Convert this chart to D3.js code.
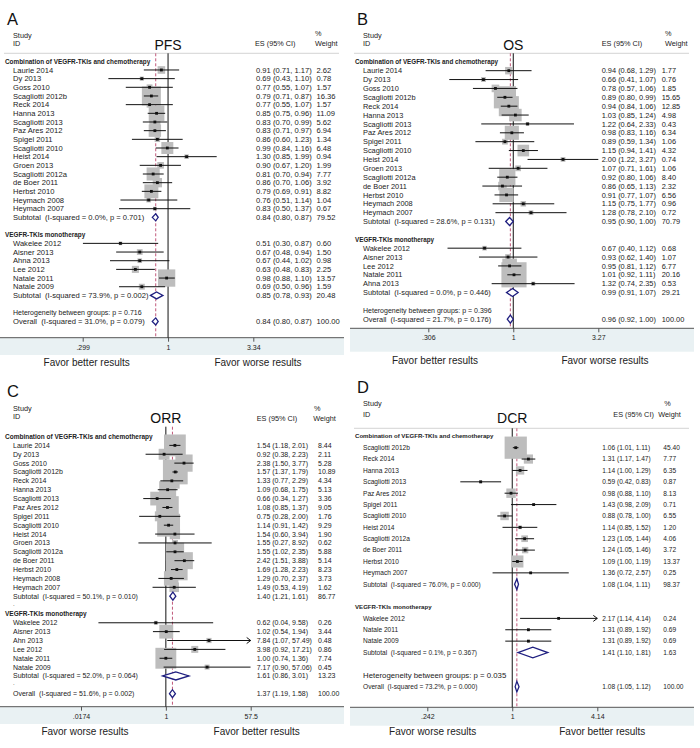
<!DOCTYPE html>
<html>
<head>
<meta charset="utf-8">
<script src="https://cdn.jsdelivr.net/npm/d3@7"></script>
<style>
    body { margin: 0; background: #fff; }
    svg text { font-family: "Liberation Sans", Arial, sans-serif; fill: #222; white-space: pre; }
</style>
</head>
<body>
<svg width="700" height="748"></svg>
<script>
// study rows: [name, ES, lower, upper, weight]
var groupNames = ["Combination of VEGFR-TKIs and chemotherapy", "VEGFR-TKIs monotherapy"];

var pfsCombo = [
    ["Laurie 2014", 0.91, 0.71, 1.17, 2.62],
    ["Dy 2013", 0.69, 0.43, 1.10, 0.78],
    ["Goss 2010", 0.77, 0.55, 1.07, 1.57],
    ["Scagliotti 2012b", 0.79, 0.71, 0.87, 16.36],
    ["Reck 2014", 0.77, 0.55, 1.07, 1.57],
    ["Hanna 2013", 0.85, 0.75, 0.96, 11.09],
    ["Scagliotti 2013", 0.83, 0.70, 0.99, 5.62],
    ["Paz Ares 2012", 0.83, 0.71, 0.97, 6.94],
    ["Spigel 2011", 0.86, 0.60, 1.23, 1.34],
    ["Scagliotti 2010", 0.99, 0.84, 1.16, 6.48],
    ["Heist 2014", 1.30, 0.85, 1.99, 0.94],
    ["Groen 2013", 0.90, 0.67, 1.20, 1.99],
    ["Scagliotti 2012a", 0.81, 0.70, 0.94, 7.77],
    ["de Boer 2011", 0.86, 0.70, 1.06, 3.92],
    ["Herbst 2010", 0.79, 0.69, 0.91, 8.82],
    ["Heymach 2008", 0.76, 0.51, 1.14, 1.04],
    ["Heymach 2007", 0.83, 0.50, 1.37, 0.67]
];
var pfsMono = [
    ["Wakelee 2012", 0.51, 0.30, 0.87, 0.60],
    ["Aisner 2013", 0.67, 0.48, 0.94, 1.50],
    ["Ahna 2013", 0.67, 0.44, 1.02, 0.98],
    ["Lee 2012", 0.63, 0.48, 0.83, 2.25],
    ["Natale 2011", 0.98, 0.88, 1.10, 13.57],
    ["Natale 2009", 0.69, 0.50, 0.96, 1.59]
];
// [ES, lower, upper, weight, I-squared, p]
var pfsSubtotals = [[0.84, 0.80, 0.87, 79.52, "0.0%", "0.701"], [0.85, 0.78, 0.93, 20.48, "73.9%", "0.002"]];
var pfsOverall = [0.84, 0.80, 0.87, 100.00, "31.0%", "0.079"];
var pfsHet = "0.716";
var pfsTicks = [0.299, 1, 3.34];
var pfsTickLabels = [".299", "1", "3.34"];

var osCombo = [
    ["Laurie 2014", 0.94, 0.68, 1.29, 1.77],
    ["Dy 2013", 0.66, 0.41, 1.07, 0.76],
    ["Goss 2010", 0.78, 0.57, 1.06, 1.85],
    ["Scagliotti 2012b", 0.89, 0.80, 0.99, 15.65],
    ["Reck 2014", 0.94, 0.84, 1.06, 12.85],
    ["Hanna 2013", 1.03, 0.85, 1.24, 4.98],
    ["Scagliotti 2013", 1.22, 0.64, 2.33, 0.43],
    ["Paz Ares 2012", 0.98, 0.83, 1.16, 6.34],
    ["Spigel 2011", 0.89, 0.59, 1.34, 1.06],
    ["Scagliotti 2010", 1.15, 0.94, 1.41, 4.32],
    ["Heist 2014", 2.00, 1.22, 3.27, 0.74],
    ["Groen 2013", 1.07, 0.71, 1.61, 1.06],
    ["Scagliotti 2012a", 0.92, 0.80, 1.06, 8.40],
    ["de Boer 2011", 0.86, 0.65, 1.13, 2.32],
    ["Herbst 2010", 0.91, 0.77, 1.07, 6.56],
    ["Heymach 2008", 1.15, 0.75, 1.77, 0.96],
    ["Heymach 2007", 1.28, 0.78, 2.10, 0.72]
];
var osMono = [
    ["Wakelee 2012", 0.67, 0.40, 1.12, 0.68],
    ["Aisner 2013", 0.93, 0.62, 1.40, 1.07],
    ["Lee 2012", 0.95, 0.81, 1.12, 6.77],
    ["Natale 2011", 1.01, 0.92, 1.11, 20.16],
    ["Ahna 2013", 1.32, 0.74, 2.35, 0.53]
];
var osSubtotals = [[0.95, 0.90, 1.00, 70.79, "28.6%", "0.131"], [0.99, 0.91, 1.07, 29.21, "0.0%", "0.446"]];
var osOverall = [0.96, 0.92, 1.00, 100.00, "21.7%", "0.176"];
var osHet = "0.396";
var osTicks = [0.306, 1, 3.27];
var osTickLabels = [".306", "1", "3.27"];

var orrCombo = [
    ["Laurie 2014", 1.54, 1.18, 2.01, 8.44],
    ["Dy 2013", 0.92, 0.38, 2.23, 2.11],
    ["Goss 2010", 2.38, 1.50, 3.77, 5.28],
    ["Scagliotti 2012b", 1.57, 1.37, 1.79, 10.89],
    ["Reck 2014", 1.33, 0.77, 2.29, 4.34],
    ["Hanna 2013", 1.09, 0.68, 1.75, 5.13],
    ["Scagliotti 2013", 0.66, 0.34, 1.27, 3.36],
    ["Paz Ares 2012", 1.08, 0.85, 1.37, 9.05],
    ["Spigel 2011", 0.75, 0.28, 2.00, 1.76],
    ["Scagliotti 2010", 1.14, 0.91, 1.42, 9.29],
    ["Heist 2014", 1.54, 0.60, 3.94, 1.90],
    ["Groen 2013", 1.55, 0.27, 8.92, 0.62],
    ["Scagliotti 2012a", 1.55, 1.02, 2.35, 5.88],
    ["de Boer 2011", 2.42, 1.51, 3.88, 5.14],
    ["Herbst 2010", 1.69, 1.28, 2.23, 8.23],
    ["Heymach 2008", 1.29, 0.70, 2.37, 3.73],
    ["Heymach 2007", 1.49, 0.53, 4.19, 1.62]
];
var orrMono = [
    ["Wakelee 2012", 0.62, 0.04, 9.58, 0.26],
    ["Aisner 2013", 1.02, 0.54, 1.94, 3.44],
    ["Ahn 2013", 7.84, 1.07, 57.49, 0.48],
    ["Lee 2012", 3.98, 0.92, 17.21, 0.86],
    ["Natale 2011", 1.00, 0.74, 1.36, 7.74],
    ["Natale 2009", 7.17, 0.90, 57.06, 0.45]
];
var orrSubtotals = [[1.40, 1.21, 1.61, 86.77, "50.1%", "0.010"], [1.61, 0.86, 3.01, 13.23, "52.0%", "0.064"]];
var orrOverall = [1.37, 1.19, 1.58, 100.00, "51.6%", "0.002"];
var orrHet = null;
var orrTicks = [0.0174, 1, 57.5];
var orrTickLabels = [".0174", "1", "57.5"];

var dcrCombo = [
    ["Scagliotti 2012b", 1.06, 1.01, 1.11, 45.40],
    ["Reck 2014", 1.31, 1.17, 1.47, 7.77],
    ["Hanna 2013", 1.14, 1.00, 1.29, 6.35],
    ["Scagliotti 2013", 0.59, 0.42, 0.83, 0.87],
    ["Paz Ares 2012", 0.98, 0.88, 1.10, 8.13],
    ["Spigel 2011", 1.43, 0.98, 2.09, 0.71],
    ["Scagliotti 2010", 0.88, 0.78, 1.00, 6.55],
    ["Heist 2014", 1.14, 0.85, 1.52, 1.20],
    ["Scagliotti 2012a", 1.23, 1.05, 1.44, 4.06],
    ["de Boer 2011", 1.24, 1.05, 1.46, 3.72],
    ["Herbst 2010", 1.09, 1.00, 1.19, 13.37],
    ["Heymach 2007", 1.36, 0.72, 2.57, 0.25]
];
var dcrMono = [
    ["Wakelee 2012", 2.17, 1.14, 4.14, 0.24],
    ["Natale 2011", 1.31, 0.89, 1.92, 0.69],
    ["Natale 2009", 1.31, 0.89, 1.92, 0.69]
];
var dcrSubtotals = [[1.08, 1.04, 1.11, 98.37, "76.0%", "0.000"], [1.41, 1.10, 1.81, 1.63, "0.1%", "0.367"]];
var dcrOverall = [1.08, 1.05, 1.12, 100.00, "73.2%", "0.000"];
var dcrHet = "0.035";
var dcrTicks = [0.242, 1, 4.14];
var dcrTickLabels = [".242", "1", "4.14"];

var panels = [
    {
        letter: "A", title: "PFS", tx: 0, ty: 0,
        combo: pfsCombo, mono: pfsMono, subs: pfsSubtotals, overall: pfsOverall, het: pfsHet,
        ticks: pfsTicks, tickLabels: pfsTickLabels, favor: ["Favor better results", "Favor worse results"],
        letterY: 25, titleY: 49.5, studyY: 35, idY: 43.5, pctY: 33, headY: 43.7,
        esHeadX: 255, pctX: 315, wHeadX: 315, esX: 256, wX: 316.5,
        sepY: 53.3, lineTop: 53.3, y0: 61.3, step: 8.67, axisY: 337.7, bandH: 17.3,
        favorY: 362, favorX: [86.7, 258], xRange: [82.7, 253.3],
        boxK: 4.7, dh: 3.5, rowFont: 7.6, groupFont: 6.4, hetFont: 7, arrowAt: Infinity, dots: false
    },
    {
        letter: "B", title: "OS", tx: 350, ty: 0,
        combo: osCombo, mono: osMono, subs: osSubtotals, overall: osOverall, het: osHet,
        ticks: osTicks, tickLabels: osTickLabels, favor: ["Favor better results", "Favor worse results"],
        letterY: 25, titleY: 50, studyY: 35, idY: 43.3, pctY: 33, headY: 43.7,
        esHeadX: 251.7, pctX: 315, wHeadX: 315, esX: 251.7, wX: 311.7,
        sepY: 53.3, lineTop: 53.3, y0: 61.8, step: 8.875, axisY: 328.3, bandH: 23.4,
        favorY: 360, favorX: [85, 255], xRange: [78.3, 248.3],
        boxK: 5.6, dh: 4, rowFont: 7.4, groupFont: 6.3, hetFont: 7, arrowAt: Infinity, dots: false
    },
    {
        letter: "C", title: "ORR", tx: 0, ty: 375,
        combo: orrCombo, mono: orrMono, subs: orrSubtotals, overall: orrOverall, het: orrHet,
        ticks: orrTicks, tickLabels: orrTickLabels, favor: ["Favor worse results", "Favor better results"],
        letterY: 21.7, titleY: 48.3, studyY: 33.3, idY: 41.7, pctY: 33.3, headY: 43.3,
        esHeadX: 256.7, pctX: 314, wHeadX: 313.3, esX: 256.7, wX: 318,
        sepY: null, lineTop: 51.7, y0: 61.5, step: 8.87, axisY: 331.7, bandH: 17.3,
        favorY: 356.7, favorX: [85, 256.7], xRange: [81, 250.7],
        boxK: 7.5, dh: 4, rowFont: 7, groupFont: 6.5, hetFont: 7, arrowAt: 57.3, dots: true
    },
    {
        letter: "D", title: "DCR", tx: 350, ty: 375,
        combo: dcrCombo, mono: dcrMono, subs: dcrSubtotals, overall: dcrOverall, het: dcrHet,
        ticks: dcrTicks, tickLabels: dcrTickLabels, favor: ["Favor worse results", "Favor better results"],
        letterY: 18.3, titleY: 48.3, studyY: 28.3, idY: 39.3, pctY: 28.3, headY: 39.3,
        esHeadX: 263.3, pctX: 314.3, wHeadX: 308.3, esX: 252.3, wX: 313.3,
        sepY: 53.3, lineTop: 53.3, y0: 61.3, step: 11.38, axisY: 332.3, bandH: 18.4,
        favorY: 356.7, favorX: [82.7, 252.3], xRange: [77.3, 247.3],
        boxK: 3.3, dh: 5.3, rowFont: 6.6, groupFont: 6.1, hetFont: 7.8, arrowAt: 4.1, dots: false
    }
];

var f2 = d3.format(".2f");
var svg = d3.select("svg");

function esText(r) {
    return f2(r[0]) + " (" + f2(r[1]) + ", " + f2(r[2]) + ")";
}

panels.forEach(function (p) {
    var g = svg.append("g").attr("transform", "translate(" + [p.tx, p.ty] + ")");

    var x = d3.scaleLog().domain([p.ticks[0], p.ticks[2]]).range(p.xRange);
    var y = d3.scaleLinear().domain([0, 1]).range([p.y0, p.y0 + p.step]);

    // build the row list (slot index -> content)
    var rows = [];
    var s = 0;
    [p.combo, p.mono].forEach(function (list, gi) {
        rows.push({ type: "group", slot: s++, label: groupNames[gi] });
        list.forEach(function (d) {
            rows.push({ type: "study", slot: s++, label: d[0], v: d });
        });
        var sub = p.subs[gi];
        rows.push({ type: "sub", slot: s++, label: "Subtotal  (I-squared = " + sub[4] + ", p = " + sub[5] + ")", v: sub });
        rows.push({ type: "blank", slot: s++ });
    });
    if (p.het) rows.push({ type: "het", slot: s++, label: "Heterogeneity between groups: p = " + p.het });
    rows.push({ type: "overall", slot: s++, label: "Overall  (I-squared = " + p.overall[4] + ", p = " + p.overall[5] + ")", v: p.overall });

    var studies = rows.filter(function (r) { return r.type === "study"; });
    var diamonds = rows.filter(function (r) { return r.type === "sub" || r.type === "overall"; });

    // panel letter and title
    g.append("text").attr("x", 7).attr("y", p.letterY).style("font-size", "16.5px").style("fill", "#111").text(p.letter);
    g.append("text").attr("x", x(1)).attr("y", p.titleY).attr("text-anchor", "middle")
        .style("font-size", "14px").style("fill", "#111").text(p.title);

    // column headers
    var hs = "7.3px";
    g.append("text").attr("x", 13).attr("y", p.studyY).attr("dy", "0.35em").style("font-size", hs).text("Study");
    g.append("text").attr("x", 13).attr("y", p.idY).attr("dy", "0.35em").style("font-size", hs).text("ID");
    g.append("text").attr("x", p.esHeadX).attr("y", p.headY).attr("dy", "0.35em").style("font-size", hs).text("ES (95% CI)");
    g.append("text").attr("x", p.pctX).attr("y", p.pctY).attr("dy", "0.35em").style("font-size", hs).text("%");
    g.append("text").attr("x", p.wHeadX).attr("y", p.headY).attr("dy", "0.35em").style("font-size", hs).text("Weight");

    if (p.sepY !== null) {
        g.append("line").attr("x1", 4).attr("x2", 339).attr("y1", p.sepY).attr("y2", p.sepY)
            .attr("stroke", "#c8c8c8").attr("stroke-width", 0.8);
    }

    // bottom band + axis
    g.append("rect").attr("x", 0).attr("y", p.axisY).attr("width", 344).attr("height", p.bandH).attr("fill", "#e9f1f3");
    g.append("line").attr("x1", 0).attr("x2", 344).attr("y1", p.axisY).attr("y2", p.axisY)
        .attr("stroke", "#555").attr("stroke-width", 1);
    var axis = g.append("g").attr("transform", "translate(0," + p.axisY + ")")
        .call(d3.axisBottom(x).tickValues(p.ticks).tickSize(4).tickPadding(3)
            .tickFormat(function (d, i) { return p.tickLabels[i]; }));
    axis.select(".domain").remove();
    axis.selectAll("line").attr("stroke", "#555");
    axis.selectAll("text").style("font-size", "7px").style("font-family", "Liberation Sans, Arial, sans-serif").attr("fill", "#333");

    // favour labels
    p.favor.forEach(function (t, i) {
        g.append("text").attr("x", p.favorX[i]).attr("y", p.favorY).attr("dy", "0.35em")
            .attr("text-anchor", "middle").style("font-size", "10px").text(t);
    });

    // null line and overall dashed line
    g.append("line").attr("x1", x(1)).attr("x2", x(1)).attr("y1", p.lineTop).attr("y2", p.axisY)
        .attr("stroke", "#111").attr("stroke-width", 1);
    g.append("line").attr("x1", x(p.overall[0])).attr("x2", x(p.overall[0])).attr("y1", p.lineTop).attr("y2", p.axisY)
        .attr("stroke", "#c0587a").attr("stroke-width", 1).attr("stroke-dasharray", "3,2");

    // weight boxes, side grows with sqrt(weight)
    g.selectAll(".box").data(studies).enter().append("rect")
        .attr("x", function (r) { return x(r.v[1]) - p.boxK * Math.sqrt(r.v[4]) / 2; })
        .attr("y", function (r) { return y(r.slot) - p.boxK * Math.sqrt(r.v[4]) / 2; })
        .attr("width", function (r) { return p.boxK * Math.sqrt(r.v[4]); })
        .attr("height", function (r) { return p.boxK * Math.sqrt(r.v[4]); })
        .attr("fill", "#bdbdbd");

    // confidence intervals
    studies.forEach(function (r) {
        var yy = y(r.slot);
        var hi = Math.min(r.v[3], p.ticks[2]);
        g.append("line").attr("x1", x(r.v[2])).attr("x2", x(hi)).attr("y1", yy).attr("y2", yy)
            .attr("stroke", "#111").attr("stroke-width", 1);
        if (r.v[3] >= p.arrowAt) {
            var xe = x(hi);
            g.append("path").attr("d", "M" + (xe - 4) + "," + (yy - 3) + "L" + xe + "," + yy + "L" + (xe - 4) + "," + (yy + 3))
                .attr("fill", "none").attr("stroke", "#111").attr("stroke-width", 1);
        }
        g.append("rect").attr("x", x(r.v[1]) - 1.4).attr("y", yy - 1.4).attr("width", 2.8).attr("height", 2.8).attr("fill", "#111");
    });

    // summary diamonds
    g.selectAll(".diamond").data(diamonds).enter().append("path")
        .attr("d", function (r) {
            var yy = y(r.slot);
            return "M" + x(r.v[1]) + "," + yy + "L" + x(r.v[0]) + "," + (yy - p.dh) +
                "L" + x(r.v[2]) + "," + yy + "L" + x(r.v[0]) + "," + (yy + p.dh) + "Z";
        })
        .attr("fill", "#fff").attr("stroke", "#1f1f80").attr("stroke-width", 1.3);

    // row text
    rows.forEach(function (r) {
        var yy = y(r.slot);
        if (r.type === "group") {
            g.append("text").attr("x", 5).attr("y", yy).attr("dy", "0.35em")
                .style("font-size", p.groupFont + "px").style("font-weight", "bold").text(r.label);
        } else if (r.type === "blank") {
            if (p.dots) g.append("text").attr("x", 13).attr("y", yy).attr("dy", "0.1em").style("font-size", "6px").text(".");
        } else if (r.type === "het") {
            g.append("text").attr("x", 13).attr("y", yy).attr("dy", "0.35em").style("font-size", p.hetFont + "px").text(r.label);
        } else {
            g.append("text").attr("x", 13).attr("y", yy).attr("dy", "0.35em").style("font-size", p.rowFont + "px").text(r.label);
            g.append("text").attr("x", p.esX).attr("y", yy).attr("dy", "0.35em").style("font-size", p.rowFont + "px").text(esText(r.type === "study" ? r.v.slice(1) : r.v));
            g.append("text").attr("x", p.wX).attr("y", yy).attr("dy", "0.35em").style("font-size", p.rowFont + "px").text(f2(r.type === "study" ? r.v[4] : r.v[3]));
        }
    });
});
</script>
</body>
</html>
